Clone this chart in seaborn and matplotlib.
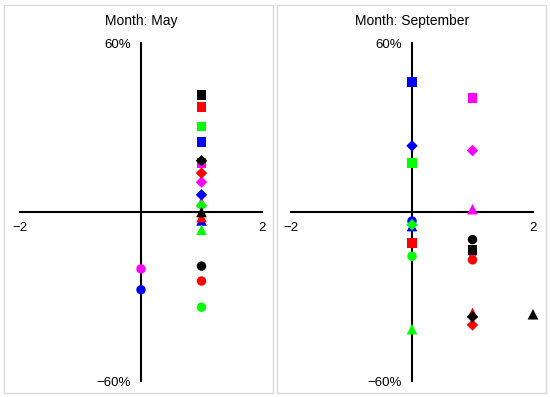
import matplotlib
matplotlib.use("Agg")
import matplotlib.pyplot as plt
from matplotlib.patches import Rectangle
import pandas as pd
import seaborn as sns

# ── Data ──────────────────────────────────────────────────────
# draw order: later colours sit on top
groups = ["magenta", "blue", "green", "red", "black"]
shapes = ["square", "diamond", "triangle", "circle"]

# one entry per (group, shape), same order as the loops below
may_x = [1, 1, 1, 0,
         1, 1, 1, 0,
         1, 1, 1, 1,
         1, 1, 1, 1,
         1, 1, 1, 1]
may_y = [17.4, 10.6, 3.5, -20.2,
         24.9, 6.1, -3.0, -27.6,
         30.4, 2.3, -6.3, -33.8,
         37.2, 13.8, -1.8, -24.5,
         41.5, 18.2, 0.0, -19.2]

sep_x = [1, 1, 1, 1,
         0, 0, 0, 0,
         0, 0, 0, 0,
         0, 1, 1, 1,
         1, 1, 2, 1]
sep_y = [40.4, 21.8, 1.0, -14.5,
         46.1, 23.5, -5.0, -3.2,
         17.3, -4.5, -41.6, -15.7,
         -10.9, -40.1, -35.8, -17.0,
         -13.4, -37.2, -36.3, -9.8]

months = ["May", "September"]

colors = {"magenta": "#FF00FF", "blue": "#0000FF", "green": "#00FF00",
          "red": "#FF0000", "black": "#000000"}
markers = {"square": "s", "diamond": "D", "triangle": "^", "circle": "o"}
sizes = {"square": 48, "diamond": 34, "triangle": 58, "circle": 46}


def make_frame(xs, ys):
    rows = []
    i = 0
    for g in groups:
        for s in shapes:
            rows.append({"group": g, "shape": s, "x": xs[i], "y": ys[i]})
            i += 1
    return pd.DataFrame(rows)


frames = [make_frame(may_x, may_y), make_frame(sep_x, sep_y)]

# ── Figure ────────────────────────────────────────────────────
sns.set_theme(style="white")
plt.rcParams["font.family"] = ["Liberation Sans", "DejaVu Sans"]
plt.rcParams["text.color"] = "black"
plt.rcParams["xtick.color"] = "black"
plt.rcParams["ytick.color"] = "black"

fig = plt.figure(figsize=(5.5, 3.97), dpi=100)
W, H = 550, 397

# light grey panel borders
for x0, x1 in [(4, 273), (277, 546)]:
    fig.patches.append(Rectangle((x0 / W, 4 / H), (x1 - x0) / W, 388 / H,
                                 transform=fig.transFigure, fill=False,
                                 edgecolor="#d9d9d9", linewidth=1))

ax_left = [20, 291]
for k, (df, month) in enumerate(zip(frames, months)):
    ax = fig.add_axes([ax_left[k] / W, 16 / H, 242 / W, 338 / H])
    ax.set_facecolor("none")
    sns.scatterplot(data=df, x="x", y="y", hue="group", style="shape",
                    size="shape", palette=colors, markers=markers,
                    sizes=sizes, linewidth=0, legend=False, ax=ax,
                    clip_on=False, zorder=3)
    ax.set_xlim(-2, 2)
    ax.set_ylim(-60, 60)
    for side in ["left", "bottom"]:
        ax.spines[side].set_position("zero")
        ax.spines[side].set_color("black")
        ax.spines[side].set_linewidth(1.5)
    for side in ["top", "right"]:
        ax.spines[side].set_visible(False)
    ax.set_xticks([-2, 2], ["\u22122", "2"])
    ax.set_yticks([-60, 60], ["\u221260%", "60%"])
    ax.tick_params(axis="both", length=0, labelsize=9.5, labelcolor="black")
    ax.tick_params(axis="x", pad=7)
    ax.tick_params(axis="y", pad=7.5)
    ax.set_xlabel("")
    ax.set_ylabel("")
    ax.set_title(f"Month: {month}", fontsize=10, pad=13, color="black")

fig.savefig("out.png", dpi=100)
